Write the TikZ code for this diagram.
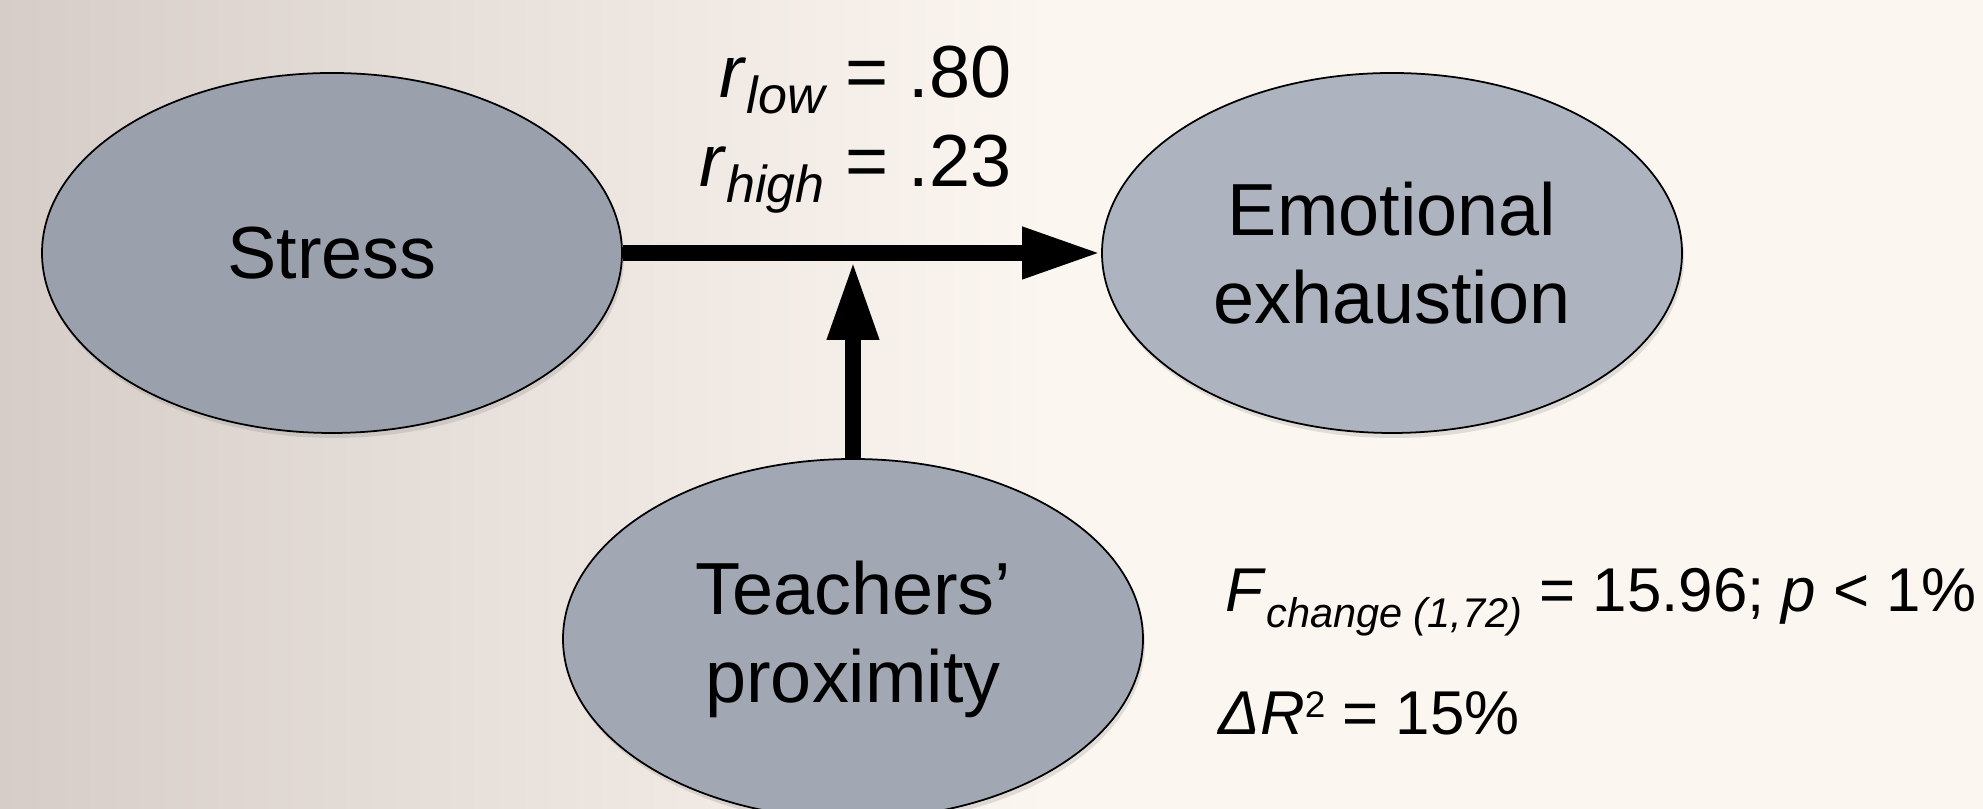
\documentclass[tikz,border=0pt]{standalone}
\usepackage{fontspec}
\setmainfont{Liberation Sans}
\usetikzlibrary{arrows.meta, shapes.geometric, shadows}
\definecolor{c1}{HTML}{000000}
\definecolor{paper}{HTML}{FCF6F1}
\definecolor{photo}{HTML}{D6CDC8}
\definecolor{blob}{HTML}{A1A8B4}
\definecolor{blobdark}{HTML}{9AA1AD}
\definecolor{bloblight}{HTML}{ADB3BF}

% small italic indices as the slide sets them
\newcommand{\rsub}[1]{\raisebox{-4.5pt}{\fontsize{14.8}{16}\selectfont\itshape #1}}
\newcommand{\fsub}[1]{\raisebox{-4.3pt}{\fontsize{11.8}{14}\selectfont\itshape #1}}
\newcommand{\sqsup}[1]{\raisebox{5.1pt}{\fontsize{10.5}{12}\selectfont #1}}

\begin{document}
\begin{tikzpicture}[
    every node/.style={text=c1},
    arr/.style={-{Triangle[length=0.79cm, width=0.48cm]}, line width=0.16cm, color=c1},
    var/.style={ellipse, draw=c1, fill=blob, line width=0.5pt,
                minimum width=5.8cm, minimum height=3.6cm, inner sep=0pt,
                align=center, font=\fontsize{21}{25}\selectfont,
                drop shadow={opacity=0.22, shadow xshift=0.02cm, shadow yshift=-0.05cm}},
    coef/.style={anchor=base east, inner sep=0pt, font=\fontsize{21}{25}\selectfont},
    stat/.style={anchor=base west, inner sep=0pt, font=\fontsize{17.6}{21}\selectfont},
]

\useasboundingbox (0,0) rectangle (19.83,8.09);
\clip (0,0) rectangle (19.83,8.09);

% ================================================================ backdrop
\fill[paper] (0,0) rectangle (19.83,8.09);
\shade[left color=photo, right color=paper] (0,0) rectangle (10.5,8.09);

% ================================================================ the three variables
\node[var, fill=blobdark]  (stress) at (3.32, 5.56) {Stress};
\node[var, fill=bloblight] (emo)    at (13.92, 5.56) {Emotional\\exhaustion};
\node[var]                 (teach)  at (8.53, 1.70) {Teachers’\\proximity};

% main path and the moderator pointing at it
\draw[arr] (stress.east) -- (emo.west);
\coordinate (tip) at ([yshift=-0.08cm]teach.north |- stress.east);
\draw[arr] (teach.north) -- (tip);

% ================================================================ numbers
\node[coef] (rlow)  at (10.12, 7.11) {\textit{r}\rsub{low} = .80};
\node[coef] (rhigh) at (10.12, 6.22) {\textit{r}\rsub{high} = .23};

\node[stat] (fchg) at (12.25, 1.97) {\textit{F}\fsub{change (1,72)} = 15.96; \textit{p} < 1\%};
\node[stat] (dr2)  at (12.18, 0.74) {\textit{ΔR}\sqsup{2} = 15\%};

\end{tikzpicture}
\end{document}
